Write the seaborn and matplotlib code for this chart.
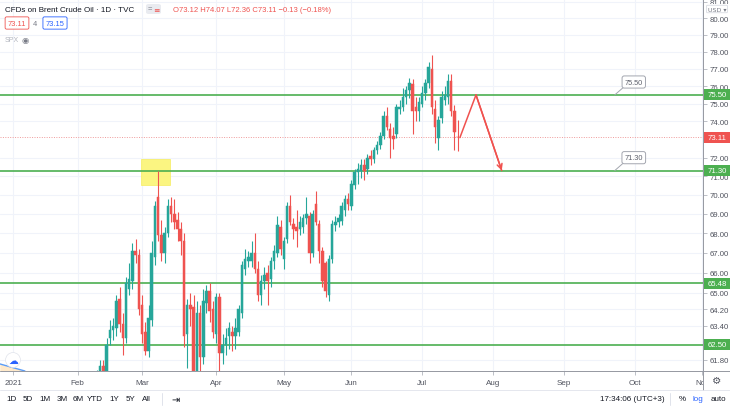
import numpy as np
import pandas as pd
import matplotlib
matplotlib.use("Agg")
import matplotlib.pyplot as plt
import seaborn as sns
from matplotlib.patches import Rectangle, FancyBboxPatch
from matplotlib.ticker import FixedLocator, NullLocator, FuncFormatter

# ---------------- data ----------------
first_bar = "2021-02-09"          # first visible daily candle
holidays = ["2021-04-02"]         # no bar on Good Friday

open_ = [60.6, 61.1, 61.5, 61.1, 62.8, 63.2, 63.3, 64.7, 63.5, 62.8, 65.2, 65.6, 67.1, 66.9,
         64.4, 63.1, 62.2, 63.7, 66.8, 69.9, 67.9, 67.0, 68.0, 69.4, 69.0, 68.7, 68.2, 67.6, 63.0, 64.4, 64.3, 60.8, 64.0, 61.9, 64.5, 65.1, 64.2,
         63.0, 64.8, 62.1, 62.5, 62.9, 63.1, 62.9, 63.1, 64.0, 66.2, 66.6, 66.6, 67.0, 66.2, 64.9, 65.6, 66.0, 65.7, 66.6, 67.0, 68.3,
         66.7, 67.7, 69.4, 68.5, 68.3, 68.2, 68.3, 68.8, 68.9, 67.0, 69.5, 68.5, 67.1, 66.5, 64.9, 66.7, 68.4, 68.6, 68.65, 69.2, 69.8,
         69.4, 70.5, 71.2, 71.3, 71.6, 71.4, 72.1, 71.9, 72.4, 72.7, 73.2, 74.3, 73.6, 73.2, 73.3, 74.7, 74.8, 75.4, 75.8, 76.1, 74.8, 74.6,
         75.0, 75.6, 76.2, 77.0, 74.7, 73.1, 74.2, 75.2, 75.4, 76.3, 74.6, 73.12]
high = [61.3, 61.8, 61.8, 62.8, 63.7, 63.8, 64.9, 65.3, 64.0, 65.8, 66.5, 67.5, 67.7, 67.2,
        64.9, 63.6, 64.4, 67.6, 69.7, 71.3, 68.7, 68.3, 69.8, 69.9, 69.8, 69.1, 68.6, 68.0, 64.7, 65.0, 64.9, 64.6, 64.4, 65.2, 65.4, 65.5, 64.6,
        65.0, 65.0, 63.0, 63.3, 63.6, 63.4, 63.8, 64.4, 66.6, 67.2, 67.1, 67.6, 68.0, 66.6, 65.9, 66.3, 66.4, 66.8, 67.4, 68.9, 68.7,
        67.8, 69.6, 70.0, 68.8, 69.2, 68.9, 69.0, 69.9, 69.1, 69.2, 70.2, 68.7, 67.3, 66.6, 66.9, 68.7, 68.9, 69.0, 69.6, 70.0, 70.1,
        70.8, 71.4, 71.7, 71.9, 71.9, 72.2, 72.4, 72.6, 72.9, 73.4, 74.6, 74.8, 73.9, 73.7, 75.0, 75.2, 75.9, 76.0, 76.5, 76.4, 75.4, 75.4,
        76.0, 76.4, 77.4, 77.8, 75.2, 74.3, 75.7, 76.0, 76.7, 76.7, 74.9, 74.07]
low = [60.4, 60.8, 60.8, 60.9, 62.5, 62.7, 62.9, 63.1, 62.0, 62.6, 64.9, 65.2, 66.5, 63.9,
       62.6, 62.0, 61.9, 63.4, 66.4, 67.6, 66.6, 66.5, 67.8, 68.6, 68.2, 67.6, 66.9, 62.4, 61.4, 63.4, 60.5, 60.6, 61.2, 61.6, 64.0, 63.6, 62.8,
       62.6, 61.2, 61.6, 62.0, 62.3, 62.2, 62.3, 62.9, 63.8, 65.9, 66.3, 66.3, 66.0, 64.6, 64.4, 65.2, 64.4, 65.3, 66.2, 66.8, 66.9,
       66.2, 67.5, 68.4, 67.7, 67.3, 67.9, 68.0, 68.5, 66.5, 66.8, 68.4, 66.5, 65.3, 64.8, 64.6, 66.5, 68.1, 68.3, 68.4, 68.9, 69.2,
       69.2, 70.3, 70.6, 70.9, 70.8, 71.1, 71.6, 71.7, 72.2, 72.5, 73.0, 73.5, 72.0, 72.5, 73.1, 74.4, 74.6, 75.0, 75.3, 73.3, 74.0, 74.0,
       74.8, 75.2, 75.9, 74.4, 72.8, 72.4, 73.9, 74.9, 75.0, 74.3, 72.4, 72.36]
close = [61.1, 61.5, 61.1, 62.5, 63.2, 63.4, 64.6, 63.5, 62.8, 65.5, 65.7, 67.1, 66.9, 64.2,
         63.0, 62.2, 63.8, 67.0, 69.4, 67.9, 67.0, 68.0, 69.4, 69.0, 68.6, 68.2, 67.6, 62.9, 64.4, 64.2, 60.8, 64.0, 61.9, 64.6, 65.1, 64.1, 63.1,
         64.8, 62.1, 62.5, 62.8, 63.3, 62.9, 63.3, 64.2, 66.4, 66.7, 66.8, 67.0, 66.2, 64.9, 65.6, 65.9, 65.6, 66.6, 67.1, 68.4, 67.2,
         67.6, 69.4, 68.6, 68.2, 68.1, 68.6, 68.8, 69.0, 67.0, 69.0, 68.6, 67.1, 65.6, 65.1, 66.7, 68.5, 68.6, 68.8, 69.4, 69.8, 69.5,
         70.6, 71.2, 71.4, 71.6, 71.3, 72.0, 71.9, 72.4, 72.7, 73.2, 74.3, 73.7, 73.1, 73.0, 74.8, 74.8, 75.4, 75.8, 76.2, 74.6, 74.6, 75.1,
         75.6, 76.2, 77.1, 74.8, 73.7, 74.1, 75.4, 75.5, 76.3, 74.6, 73.4, 73.11]

levels = [75.50, 71.30, 65.48, 62.50]
level_labels = ["75.50", "71.30", "65.48", "62.50"]
callout_levels = [75.50, 71.30]
last_price = 73.11
price_ticks = [61.8, 63.4, 64.2, 65, 66, 67, 68, 69, 70, 71, 72, 74, 75, 76, 77, 78, 79, 80, 81]
month_labels = ["2021", "Feb", "Mar", "Apr", "May", "Jun", "Jul", "Aug", "Sep", "Oct", "Nov"]
# drawings (bar index / price)
arrow_bars = [138.7, 143.7, 151.7]
arrow_prices = [73.1, 75.5, 71.3]
zone_bars = [39.7, 48.7]
zone_prices = [70.5, 71.9]
trend_bars = [-4.2, 3.6]
trend_prices = [61.6, 61.27]
legend_title = "CFDs on Brent Crude Oil · 1D · TVC"
legend_ohlc = "O73.12 H74.07 L72.36 C73.11 −0.13 (−0.18%)"
ranges = ["1D", "5D", "1M", "3M", "6M", "YTD", "1Y", "5Y", "All"]

# ---------------- style ----------------
sns.set_theme(style="white")
plt.rcParams["font.family"] = ["Liberation Sans", "DejaVu Sans"]

UP, DOWN = "#26a69a", "#ef5350"
GREEN = "#4caf50"
GRID = "#f0f3fa"
TXT = "#50535e"

W, H = 730, 410
fig = plt.figure(figsize=(W / 100, H / 100), dpi=100)
fig.patch.set_facecolor("white")
ax = fig.add_axes([0, (H - 372) / H, 703 / W, 372 / H])
ax.set_facecolor("white")

def px(x):
    return x / W

def py(y):
    return 1 - y / H

# trading-day calendar -> bar index
cal = pd.bdate_range("2021-01-04", "2021-11-30")
cal = cal[~cal.isin(pd.to_datetime(holidays))]
start = int(np.where(cal == pd.Timestamp(first_bar))[0][0])
xs = np.arange(start, start + len(open_))
o = np.array(open_); c = np.array(close); h = np.array(high); l = np.array(low)
cols = np.where(c >= o, UP, DOWN)

ax.set_yscale("log")
ax.set_xlim(-4.13, 214.2)
ax.set_ylim(61.27, 81.18)

# axes / grid
month_first = list(pd.Series(np.arange(len(cal)), index=cal).groupby([cal.year, cal.month]).min().values)
ax.xaxis.set_major_locator(FixedLocator(month_first))
ax.xaxis.set_major_formatter(FuncFormatter(
    lambda v, p: month_labels[month_first.index(int(round(v)))] if int(round(v)) in month_first else ""))
ax.yaxis.set_major_locator(FixedLocator(price_ticks))
ax.yaxis.set_minor_locator(NullLocator())
ax.yaxis.set_major_formatter(FuncFormatter(lambda v, p: f"{v:.2f}"))
ax.grid(True, color=GRID, lw=0.8, zorder=0)
ax.set_axisbelow(True)
ax.yaxis.tick_right()
ax.tick_params(axis="y", which="major", length=3, width=0.6, color="#b2b5be",
               labelsize=5.6, labelcolor=TXT, pad=1.5, right=True, left=False)
ax.tick_params(axis="x", which="major", length=3, width=0.6, color="#b2b5be",
               labelsize=5.8, labelcolor=TXT, pad=2.5, bottom=True)
for s in ax.spines.values():
    s.set_visible(False)

# bottom-left drawing
ax.fill_between(trend_bars, trend_prices, 61.0, color="#ffe0b2", alpha=0.7, lw=0, zorder=1)
ax.plot(trend_bars, trend_prices, color="#5b9cf6", lw=1.0, zorder=2)

# yellow zone
ax.add_patch(Rectangle((zone_bars[0], zone_prices[0]), zone_bars[1] - zone_bars[0],
                       zone_prices[1] - zone_prices[0], fc="#fbf57a", ec="#f5ec5a", lw=0.5,
                       alpha=0.95, zorder=1.5))

# horizontal levels
for lv in levels:
    ax.axhline(lv, color=GREEN, lw=1.2, zorder=2)
ax.axhline(last_price, color="#ef9a9a", lw=0.7, ls=(0, (1, 1.5)), zorder=1.8)

# candles
ax.vlines(xs, l, h, colors=cols, lw=0.8, zorder=3)
body_lo = np.minimum(o, c)
body_h = np.maximum(np.abs(c - o), 0.05)
ax.bar(xs, body_h, bottom=body_lo, width=0.78, color=cols, edgecolor=cols, lw=0.35, zorder=3.5)

# red arrow drawing
sns.lineplot(x=arrow_bars, y=arrow_prices, sort=False, color="#f0524f", lw=1.1, ax=ax, zorder=4)
ax.annotate("", xy=(arrow_bars[2], arrow_prices[2]), xytext=(arrow_bars[1], arrow_prices[1]),
            arrowprops=dict(arrowstyle="->", color="#f0524f", lw=1.1, mutation_scale=9,
                            shrinkA=0, shrinkB=0), zorder=4)

# callouts
for lv, lab in zip(callout_levels, ["75.50", "71.30"]):
    ax.annotate(lab, xy=(186.8, lv), xytext=(192.7, lv * 1.0098), textcoords="data",
                fontsize=5.3, color="#5d606b", ha="center", va="center",
                bbox=dict(boxstyle="round,pad=0.35,rounding_size=0.3", fc="white", ec="#a3a6af", lw=0.7),
                arrowprops=dict(arrowstyle="-", color="#a3a6af", lw=0.7, shrinkA=0, shrinkB=0,
                                relpos=(0.05, 0.0)), zorder=5)

ax.set_xlabel(""); ax.set_ylabel("")

# ---------- figure-level decorations ----------
fig.canvas.draw()
to_fig = fig.transFigure.inverted()

def price_to_fy(p):
    return to_fig.transform(ax.transData.transform((0, p)))[1]

def tag(p, text, fc):
    fy = price_to_fy(p)
    fig.patches.append(Rectangle((px(704), fy - 5.5 / H), 26 / W, 11 / H, transform=fig.transFigure,
                                 fc=fc, ec="none", zorder=6))
    fig.text(px(717), fy, text, fontsize=5.6, color="white", ha="center", va="center", zorder=7)

for lv, lab in zip(levels, level_labels):
    tag(lv, lab, GREEN)
tag(last_price, f"{last_price:.2f}", "#ef5350")

# frame lines
fig.add_artist(plt.Line2D([0, 1], [py(372), py(372)], transform=fig.transFigure, color="#9598a1", lw=0.7, zorder=8))
fig.add_artist(plt.Line2D([px(703), px(703)], [py(0), py(391)], transform=fig.transFigure, color="#9598a1", lw=0.7, zorder=8))
fig.add_artist(plt.Line2D([0, 1], [py(391), py(391)], transform=fig.transFigure, color="#e0e3eb", lw=0.6, zorder=8))
# cover time-axis area under price scale
fig.patches.append(Rectangle((px(703.5), py(391)), 1 - px(703.5), (391 - 372.5) / H, transform=fig.transFigure,
                             fc="white", ec="none", zorder=6))
fig.text(px(717), py(381), "⚙", fontsize=7.5, color="#50535e", ha="center", va="center", zorder=7,
         family=["DejaVu Sans"])

# USD box top-right (covers lower half of the 81.00 label)
fig.patches.append(Rectangle((px(704), py(16)), 26 / W, 11 / H, transform=fig.transFigure,
                             fc="white", ec="none", zorder=6))
fig.text(px(717), py(10), "USD ▾", fontsize=4.6, color="#787b86", ha="center", va="center", zorder=7,
         bbox=dict(boxstyle="round,pad=0.2", fc="white", ec="#d1d4dc", lw=0.5), family=["DejaVu Sans"])

# legend (top-left)
fig.text(px(5), py(10), legend_title, fontsize=5.8, color="#131722", va="center")
fig.patches.append(FancyBboxPatch((px(146), py(15)), 15 / W, 10 / H, boxstyle="round,pad=0,rounding_size=0.004",
                                  transform=fig.transFigure, fc="#e9ebf0", ec="none", zorder=2))
fig.text(px(150), py(10), "=", fontsize=5.5, color="#787b86", ha="center", va="center", zorder=3)
fig.text(px(156.5), py(10), "≡", fontsize=5.5, color="#ef5350", ha="center", va="center", zorder=3,
         family=["DejaVu Sans"])
fig.text(px(173), py(10), legend_ohlc, fontsize=5.5, color="#ef5350", va="center")
fig.text(px(17), py(24), "73.11", fontsize=5.4, color="#ef5350", ha="center", va="center",
         bbox=dict(boxstyle="round,pad=0.35,rounding_size=0.2", fc="white", ec="#ef5350", lw=0.6))
fig.text(px(35), py(24), "4", fontsize=5.4, color="#787b86", ha="center", va="center")
fig.text(px(55), py(24), "73.15", fontsize=5.4, color="#2962ff", ha="center", va="center",
         bbox=dict(boxstyle="round,pad=0.35,rounding_size=0.2", fc="white", ec="#2962ff", lw=0.6))
fig.text(px(5), py(40), "SPX", fontsize=5, color="#b2b5be", va="center")
fig.text(px(25), py(40), "◉", fontsize=6, color="#787b86", ha="center", va="center", family=["DejaVu Sans"])

# cloud badge bottom-left
fig.text(px(13), py(361), "☁", fontsize=7, color="#2962ff", ha="center", va="center", family=["DejaVu Sans"],
         bbox=dict(boxstyle="circle,pad=0.25", fc="white", ec="#e0e3eb", lw=0.5), zorder=9)

# bottom toolbar
for lab, xp in zip(ranges, [12, 28, 45, 62, 78, 95, 114, 130, 146]):
    fig.text(px(xp), py(400), lab, fontsize=5.8, color="#131722", ha="center", va="center")
fig.add_artist(plt.Line2D([px(162), px(162)], [py(394), py(406)], transform=fig.transFigure, color="#e0e3eb", lw=0.7))
fig.text(px(175), py(400), "⇥", fontsize=7, color="#131722", ha="center", va="center", family=["DejaVu Sans"])
fig.text(px(632), py(400), "17:34:06 (UTC+3)", fontsize=5.8, color="#131722", ha="center", va="center")
fig.add_artist(plt.Line2D([px(670), px(670)], [py(394), py(406)], transform=fig.transFigure, color="#e0e3eb", lw=0.7))
fig.text(px(682), py(400), "%", fontsize=5.8, color="#131722", ha="center", va="center")
fig.text(px(698), py(400), "log", fontsize=5.8, color="#2962ff", ha="center", va="center")
fig.text(px(718), py(400), "auto", fontsize=5.8, color="#131722", ha="center", va="center")

fig.savefig("out.png", dpi=100)
